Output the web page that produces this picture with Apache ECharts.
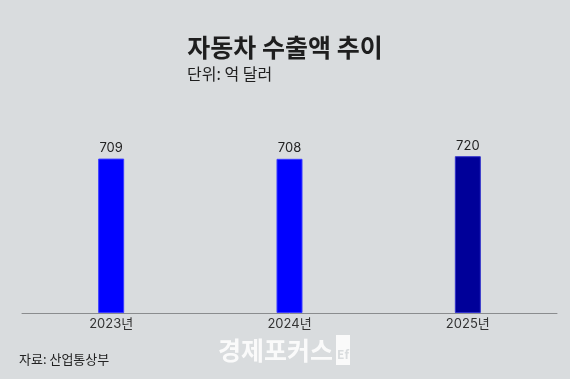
<!DOCTYPE html>
<html><head><meta charset="utf-8">
<script src="https://cdn.jsdelivr.net/npm/echarts@6/dist/echarts.min.js"></script>
<style>html,body{margin:0;padding:0;background:#d9dcde}#c{width:570px;height:379px}</style>
</head><body><div id="c"></div>
<script>
const categories = ['2023년', '2024년', '2025년'];
const values = [709, 708, 720];
const barColors = ['#0000ff', '#0000ff', '#000099'];
const titleText = '자동차 수출액 추이';
const subtitleText = '단위: 억 달러';
const sourceText = '자료: 산업통상부';
const watermarkText = '경제포커스';

const chart = echarts.init(document.getElementById('c'));
const F = '"Noto Sans CJK KR", "Noto Sans", sans-serif';
const FN = 'Inter, "Noto Sans CJK KR", sans-serif';
chart.setOption({
  backgroundColor: '#d9dcde',
  animation: false,
  grid: {left: 22, right: 13, top: 117, bottom: 66},
  xAxis: {
    type: 'category', data: categories,
    axisLine: {lineStyle: {color: '#8a8c8e', width: 1}},
    axisTick: {show: false},
    axisLabel: {color: '#333', fontSize: 13, fontFamily: FN, margin: 5}
  },
  yAxis: {type: 'value', min: 0, max: 900, show: false, splitLine: {show: false}},
  series: [{
    type: 'bar', barWidth: 26,
    data: values.map((v, i) => ({value: v, itemStyle: {color: barColors[i], borderColor: i === 2 ? '#3333cc' : '#3b3bff', borderWidth: 1}})),
    label: {show: true, position: 'top', color: '#222', fontSize: 13, fontFamily: FN, distance: 4}
  }],
  graphic: [
    {type: 'text', left: 'center', top: 35, style: {text: titleText, font: 'bold 25px ' + F, fill: '#1e1e1e'}},
    {type: 'text', left: 187, top: 66, style: {text: subtitleText, font: '16px ' + F, fill: '#1e1e1e'}},
    {type: 'text', left: 19, top: 353, style: {text: sourceText, font: '13px ' + F, fill: '#222'}},
    {type: 'text', left: 218, top: 338, style: {text: watermarkText, font: 'bold 25px ' + F, fill: 'rgba(255,255,255,0.85)'}},
    {type: 'rect', shape: {x: 336, y: 335, width: 14, height: 30}, style: {fill: 'rgba(255,255,255,0.85)'}},
    {type: 'text', left: 337, top: 348, style: {text: 'Ef', font: 'bold 12px ' + F, fill: '#d9dcde'}}
  ]
});
</script></body></html>
